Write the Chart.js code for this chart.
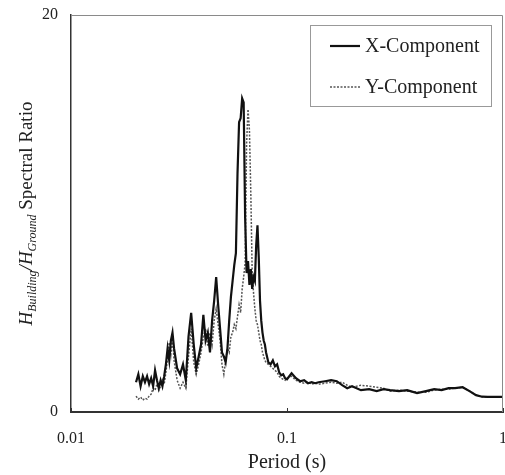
<!DOCTYPE html>
<html>
<head>
<meta charset="utf-8">
<script src="https://cdn.jsdelivr.net/npm/chart.js@4.4.0/dist/chart.umd.min.js"></script>
<style>
  body { margin: 0; background: #fff; overflow: hidden; }
  .chart-box { width: 505px; height: 475px; }
</style>
</head>
<body>
<div class="chart-box"><canvas id="ratioChart"></canvas></div>
<script>
// Period samples (s)
const periods = [
  0.0200, 0.0205, 0.0210, 0.0215, 0.0220, 0.0225, 0.0230, 0.0235, 0.0240, 0.0245,
  0.0250, 0.0255, 0.0260, 0.0265, 0.0270, 0.0275, 0.0280, 0.0285, 0.0290, 0.0295,
  0.030, 0.031, 0.032, 0.033, 0.034, 0.035, 0.036, 0.037, 0.038, 0.039,
  0.040, 0.041, 0.042, 0.043, 0.044, 0.045, 0.046, 0.047, 0.048, 0.049,
  0.050, 0.051, 0.052, 0.053, 0.054, 0.055, 0.056, 0.057, 0.058, 0.059,
  0.060, 0.061, 0.062, 0.063, 0.064, 0.065, 0.066, 0.067, 0.068, 0.069,
  0.070, 0.071, 0.072, 0.073, 0.074, 0.075, 0.076, 0.077, 0.078, 0.079, 0.080,
  0.082, 0.084, 0.086, 0.088, 0.090, 0.092, 0.094, 0.096, 0.098, 0.100,
  0.105, 0.11, 0.115, 0.12, 0.125, 0.13, 0.135, 0.14,
  0.15, 0.16, 0.17, 0.18, 0.19, 0.20,
  0.22, 0.24, 0.26, 0.28, 0.30,
  0.33, 0.36,
  0.40, 0.44, 0.48, 0.52, 0.56, 0.60,
  0.65, 0.70, 0.75, 0.80, 0.85, 0.90, 0.95, 1.00
];

// H_Building / H_Ground, X direction
const ratioX = [
  1.5, 1.9, 1.3, 1.8, 1.5, 1.8, 1.4, 1.7, 1.3, 2.1,
  1.6, 1.2, 1.6, 1.3, 1.8, 2.4, 3.2, 2.6, 3.6, 4.0,
  3.2, 2.2, 1.9, 2.4, 1.6, 3.8, 5.0, 3.4, 2.2, 2.8,
  3.4, 4.9, 3.6, 4.0, 3.0, 4.6, 5.6, 6.8, 5.4, 4.2,
  3.0, 2.8, 2.5, 3.2, 4.6, 5.8, 6.6, 7.4, 8.0, 12.0,
  14.6, 14.8, 15.8, 15.6, 9.8, 7.0, 7.6, 6.4, 7.2, 6.2,
  6.8, 6.6, 8.4, 9.4, 7.8, 5.6, 4.6, 4.0, 3.6, 3.4, 3.0,
  2.5, 2.4, 2.6, 2.3, 2.4, 2.0, 1.85, 1.9, 1.7, 1.65,
  1.95, 1.7, 1.55, 1.6, 1.45, 1.5, 1.45, 1.5,
  1.55, 1.6, 1.55, 1.35, 1.2, 1.3,
  1.1, 1.15, 1.05, 1.15, 1.1,
  1.05, 1.1,
  0.95, 1.05, 1.15, 1.1, 1.2, 1.2,
  1.25, 1.05, 0.85, 0.77, 0.76, 0.76, 0.76, 0.76
];

// H_Building / H_Ground, Y direction
const ratioY = [
  0.8, 0.65, 0.75, 0.6, 0.7, 0.65, 0.8, 0.9, 1.2, 1.1,
  1.4, 1.1, 1.3, 1.6, 1.4, 2.0, 2.7, 3.5, 2.9, 3.8,
  2.6, 1.6, 1.2, 1.5, 1.2, 2.8, 4.2, 2.5, 1.9, 2.4,
  3.0, 3.8, 4.2, 3.3, 4.0, 3.4, 4.6, 5.2, 4.4, 3.6,
  2.4, 1.9, 2.6, 3.2, 3.0, 3.8, 4.0, 4.4, 4.2, 4.8,
  5.4, 5.0, 6.2, 6.8, 7.5, 13.5, 15.25, 14.2, 11.0, 7.0,
  6.0, 5.2, 4.6, 4.4, 4.0, 3.6, 3.4, 3.0, 2.8, 2.6, 2.5,
  2.4, 2.3, 2.2, 2.1, 2.0, 1.8, 1.7, 1.65, 1.6, 1.7,
  1.8, 1.6, 1.5, 1.45, 1.5, 1.4, 1.45, 1.4,
  1.45, 1.5, 1.45, 1.5, 1.35, 1.25,
  1.35, 1.3, 1.25, 1.2, 1.05,
  1.1, 1.05,
  1.0, 1.0, 1.1, 1.15, 1.15, 1.2,
  1.25, 1.05, 0.85, 0.77, 0.76, 0.76, 0.76, 0.76
];

const xTicks = [0.01, 0.1, 1];
const yTicks = [0, 20];
const seriesLabels = ['X-Component', 'Y-Component'];

const serif = "'Liberation Serif', 'Times New Roman', serif";

function toPoints(vals) {
  return periods.map((p, i) => ({ x: p, y: vals[i] }));
}

// grey top/right frame and small inward tick marks
const framePlugin = {
  id: 'frame',
  afterDraw(chart) {
    const { ctx, chartArea: a, scales } = chart;
    ctx.save();
    ctx.strokeStyle = '#8a8a8a';
    ctx.lineWidth = 1;
    ctx.beginPath();
    ctx.moveTo(a.left, a.top + 0.5);
    ctx.lineTo(a.right - 0.5, a.top + 0.5);
    ctx.lineTo(a.right - 0.5, a.bottom);
    ctx.stroke();
    ctx.strokeStyle = '#333';
    xTicks.forEach(v => {
      const px = Math.round(scales.x.getPixelForValue(v)) + 0.5;
      ctx.beginPath();
      ctx.moveTo(px, a.bottom);
      ctx.lineTo(px, a.bottom - 4);
      ctx.stroke();
    });
    ctx.restore();
  }
};

// rotated y title with italic H and subscripts
const yTitlePlugin = {
  id: 'yTitle',
  afterDraw(chart) {
    const { ctx, chartArea: a } = chart;
    const parts = [
      { t: 'H', font: 'italic 19px ' + serif, dy: 0 },
      { t: 'Building', font: 'italic 12px ' + serif, dy: 4 },
      { t: '/', font: 'italic 19px ' + serif, dy: 0 },
      { t: 'H', font: 'italic 19px ' + serif, dy: 0 },
      { t: 'Ground', font: 'italic 12px ' + serif, dy: 4 },
      { t: ' Spectral Ratio', font: '19px ' + serif, dy: 0 }
    ];
    ctx.save();
    let total = 0;
    parts.forEach(p => { ctx.font = p.font; p.w = ctx.measureText(p.t).width; total += p.w; });
    ctx.translate(26, (a.top + a.bottom) / 2);
    ctx.rotate(-Math.PI / 2);
    ctx.fillStyle = '#222';
    ctx.textBaseline = 'alphabetic';
    let x = -total / 2;
    parts.forEach(p => {
      ctx.font = p.font;
      ctx.fillText(p.t, x, 6 + p.dy);
      x += p.w;
    });
    ctx.restore();
  }
};

// boxed legend in the upper right of the plot
const legendBoxPlugin = {
  id: 'legendBox',
  afterDraw(chart) {
    const { ctx, chartArea: a } = chart;
    const w = 181, h = 81;
    const left = a.right - 12 - w, top = a.top + 10;
    ctx.save();
    ctx.fillStyle = '#fff';
    ctx.fillRect(left, top, w, h);
    ctx.strokeStyle = '#999';
    ctx.lineWidth = 1;
    ctx.strokeRect(left + 0.5, top + 0.5, w, h);
    ctx.font = '20px ' + serif;
    ctx.textBaseline = 'middle';
    ctx.fillStyle = '#222';
    chart.data.datasets.forEach((ds, i) => {
      const y = top + 21 + i * 41;
      ctx.strokeStyle = ds.borderColor;
      ctx.lineWidth = ds.borderWidth;
      ctx.setLineDash(ds.borderDash || []);
      ctx.beginPath();
      ctx.moveTo(left + 20, y);
      ctx.lineTo(left + 50, y);
      ctx.stroke();
      ctx.setLineDash([]);
      ctx.fillText(ds.label, left + 55, y + 1);
    });
    ctx.restore();
  }
};

new Chart(document.getElementById('ratioChart'), {
  type: 'line',
  data: {
    datasets: [
      {
        label: seriesLabels[0],
        data: toPoints(ratioX),
        borderColor: '#111',
        borderWidth: 2.2,
        pointRadius: 0,
        tension: 0
      },
      {
        label: seriesLabels[1],
        data: toPoints(ratioY),
        borderColor: '#555',
        borderWidth: 1.5,
        borderDash: [2, 1.5],
        pointRadius: 0,
        tension: 0
      }
    ]
  },
  options: {
    responsive: true,
    maintainAspectRatio: false,
    devicePixelRatio: 1,
    animation: false,
    layout: { padding: { top: 15, right: 2, bottom: 0, left: 0 } },
    plugins: { legend: { display: false }, tooltip: { enabled: false } },
    scales: {
      x: {
        type: 'logarithmic',
        min: 0.01,
        max: 1,
        afterBuildTicks: s => { s.ticks = xTicks.map(v => ({ value: v })); },
        afterFit: s => { s.height = 63; s.paddingLeft = 0; s.paddingRight = 0; },
        grid: { display: false, drawTicks: false },
        border: { display: true, color: '#333', width: 2 },
        ticks: {
          padding: 17,
          color: '#222',
          autoSkip: false,
          maxRotation: 0,
          font: { family: serif, size: 16 },
          callback: v => String(v)
        },
        title: {
          display: true,
          text: 'Period (s)',
          color: '#222',
          padding: 0,
          font: { family: serif, size: 20 }
        }
      },
      y: {
        min: 0,
        max: 20,
        afterBuildTicks: s => { s.ticks = yTicks.map(v => ({ value: v })); },
        afterFit: s => { s.width = 71; s.paddingTop = 0; s.paddingBottom = 0; },
        grid: { display: false, drawTicks: false },
        border: { display: true, color: '#333', width: 1.5 },
        ticks: {
          padding: 13,
          color: '#222',
          font: { family: serif, size: 16 }
        }
      }
    }
  },
  plugins: [framePlugin, yTitlePlugin, legendBoxPlugin]
});
</script>
</body>
</html>
